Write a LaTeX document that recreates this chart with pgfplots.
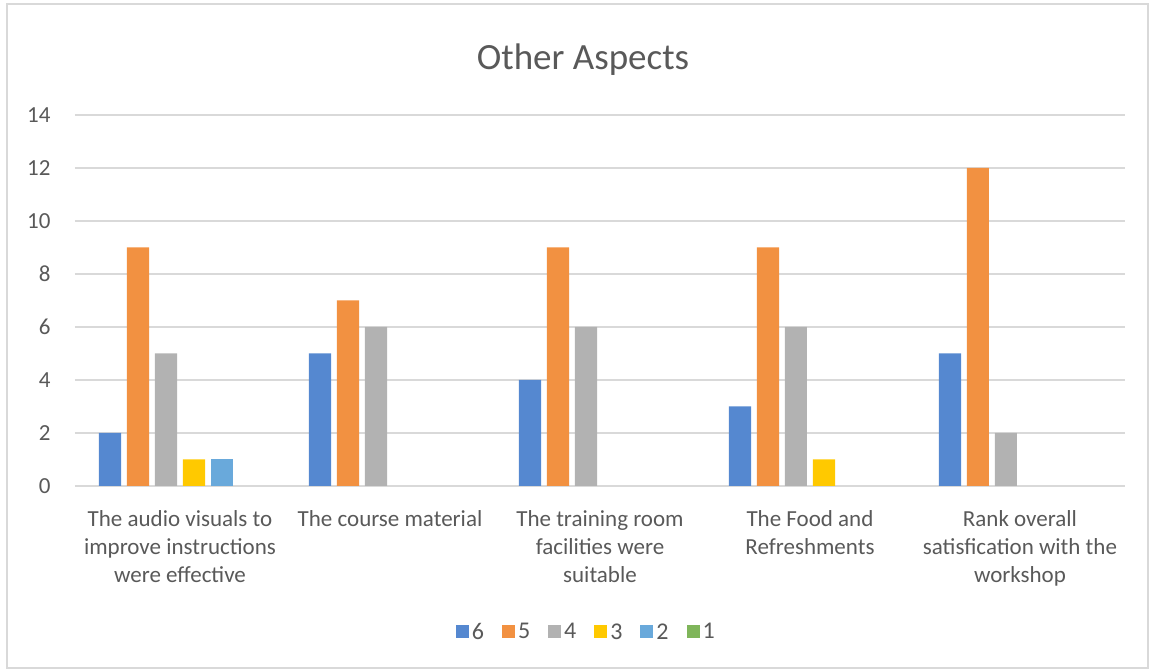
\documentclass[border=0pt]{standalone}
\usepackage{pgfplots}
\pgfplotsset{compat=1.18}
\usepackage{fontspec}
\setmainfont{Carlito}
\definecolor{c6}{HTML}{5588D0}
\definecolor{c5}{HTML}{F29141}
\definecolor{c4}{HTML}{B2B2B2}
\definecolor{c3}{HTML}{FFC900}
\definecolor{c2}{HTML}{69A9DB}
\definecolor{c1}{HTML}{7FB55A}
\definecolor{txt}{HTML}{595959}
\definecolor{gridc}{HTML}{D9D9D9}
\pgfplotsset{
  sq legend/.style={legend image code/.code={\fill[##1] (0pt,-6.5pt) rectangle (13pt,6.5pt);}},
  mybar/.style={ybar, bar width=0.105, draw=none, sq legend},
}
\begin{document}
\begin{tikzpicture}[x=1pt,y=1pt]
\useasboundingbox (0,0) rectangle (1152,672);
\draw[gridc, line width=1.2pt] (7,4) rectangle (1148,668);
\node[text=txt, font=\fontsize{37}{44}\selectfont] at (583,612) {Other Aspects};
\begin{axis}[
  at={(75pt,186pt)}, anchor=south west,
  scale only axis, width=1050pt, height=371pt,
  xmin=-0.5, xmax=4.5, ymin=0, ymax=14,
  ytick={0,2,...,14},
  xtick={0,1,2,3,4},
  xticklabels={{The audio visuals to\\improve instructions\\were effective},
               {The course material},
               {The training room\\facilities were\\suitable},
               {The Food and\\Refreshments},
               {Rank overall\\satisfication with the\\workshop}},
  major tick length=0pt,
  axis line style={draw=none},
  ymajorgrids, major grid style={gridc, line width=1.5pt},
  tick label style={font=\fontsize{23}{28}\selectfont, text=txt},
  yticklabel style={xshift=-21pt},
  xticklabel style={align=center, yshift=-21pt},
  /pgf/number format/assume math mode=true,
  legend columns=-1,
  legend style={at={(0.487,-0.3935)}, anchor=center, draw=none, fill=none,
    font=\fontsize{24}{28}\selectfont, text=txt,
    /tikz/every even column/.append style={column sep=16pt},
    /tikz/every odd column/.append style={column sep=1pt}},
]
\addplot[mybar, fill=c6, bar shift=-0.3333] coordinates {(0,2) (1,5) (2,4) (3,3) (4,5)};
\addlegendentry{6}
\addplot[mybar, fill=c5, bar shift=-0.2] coordinates {(0,9) (1,7) (2,9) (3,9) (4,12)};
\addlegendentry{5}
\addplot[mybar, fill=c4, bar shift=-0.0667] coordinates {(0,5) (1,6) (2,6) (3,6) (4,2)};
\addlegendentry{4}
\addplot[mybar, fill=c3, bar shift=0.0667] coordinates {(0,1) (3,1)};
\addlegendentry{3}
\addplot[mybar, fill=c2, bar shift=0.2] coordinates {(0,1)};
\addlegendentry{2}
\addlegendimage{fill=c1, draw=none, sq legend}
\addlegendentry{1}
\end{axis}
\end{tikzpicture}
\end{document}
